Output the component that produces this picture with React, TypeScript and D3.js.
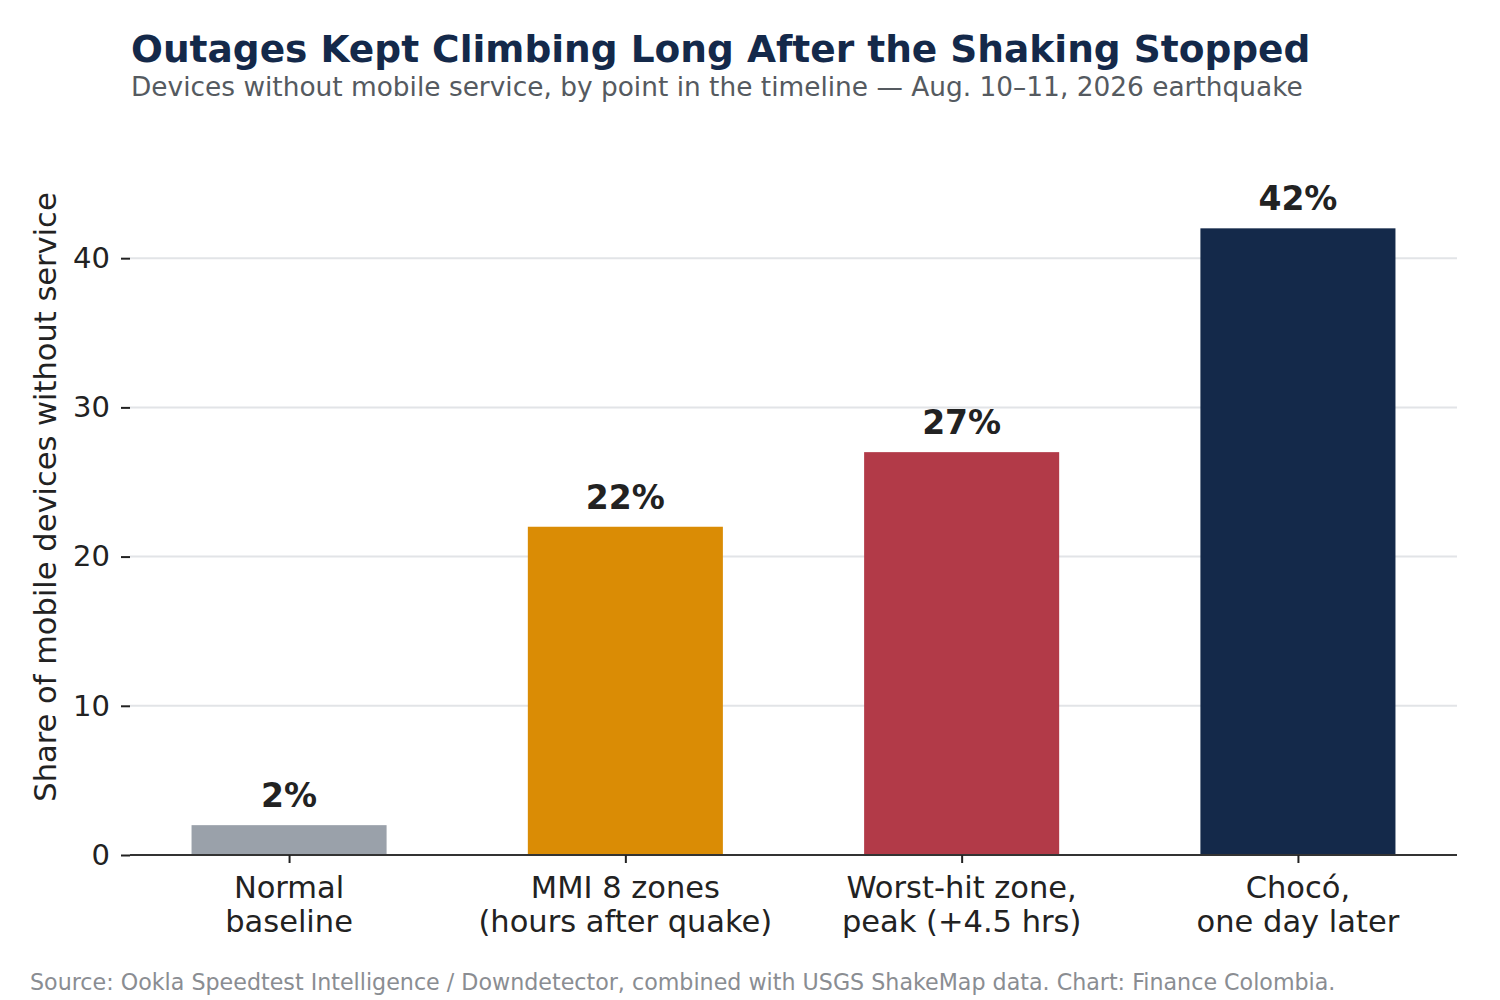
import React, { useEffect, useRef } from 'react';
import * as d3 from 'd3';

const categories = ['Normal\nbaseline', 'MMI 8 zones\n(hours after quake)', 'Worst-hit zone,\npeak (+4.5 hrs)', 'Chocó,\none day later'];
const values = [2, 22, 27, 42];
const barColors = ['#9aa1aa', '#da8c05', '#b23a48', '#14294a'];
const yTicks = [0, 10, 20, 30, 40];

const App: React.FC = () => {
    const chartRef = useRef<SVGSVGElement | null>(null);

    useEffect(() => {
        document.body.style.margin = '0';
        if (!chartRef.current) return;
        const svg = d3.select(chartRef.current);
        svg.selectAll('*').remove();

        const width = 1500;
        const height = 1000;
        const margin = { top: 197, right: 43, bottom: 145, left: 130 };
        const font = 'DejaVu Sans, sans-serif';

        svg.attr('width', width).attr('height', height).style('font-family', font);

        const x = d3.scalePoint<string>()
            .domain(categories)
            .range([margin.left, width - margin.right])
            .padding(0.473);
        const step = x.step();
        const barWidth = step * 0.58;

        const y = d3.scaleLinear()
            .domain([0, 44.1])
            .range([height - margin.bottom, margin.top]);

        // gridlines
        svg.append('g')
            .selectAll('line')
            .data(yTicks.filter(d => d > 0))
            .enter().append('line')
            .attr('x1', margin.left)
            .attr('x2', width - margin.right)
            .attr('y1', d => y(d))
            .attr('y2', d => y(d))
            .attr('stroke', '#e2e4e7')
            .attr('stroke-width', 2);

        // bars
        svg.selectAll('.bar')
            .data(values)
            .enter().append('rect')
            .attr('class', 'bar')
            .attr('x', (d, i) => (x(categories[i]) as number) - barWidth / 2)
            .attr('y', d => y(d))
            .attr('width', barWidth)
            .attr('height', d => y(0) - y(d))
            .attr('fill', (d, i) => barColors[i]);

        // value labels
        svg.selectAll('.value')
            .data(values)
            .enter().append('text')
            .attr('class', 'value')
            .attr('x', (d, i) => x(categories[i]) as number)
            .attr('y', d => y(d) - 18)
            .attr('text-anchor', 'middle')
            .attr('font-size', 33)
            .attr('font-weight', 'bold')
            .attr('fill', '#222')
            .text(d => `${d}%`);

        // y axis
        const yAxis = svg.append('g')
            .attr('transform', `translate(${margin.left},0)`)
            .call(d3.axisLeft(y).tickValues(yTicks).tickSize(9).tickPadding(11).tickFormat(d3.format('d')));
        yAxis.select('.domain').remove();
        yAxis.selectAll('.tick line').attr('stroke', '#222').attr('stroke-width', 2);
        yAxis.selectAll('.tick text')
            .attr('font-size', 29)
            .attr('font-family', font)
            .attr('fill', '#222');

        // x axis
        const xAxis = svg.append('g')
            .attr('transform', `translate(0,${y(0)})`)
            .call(d3.axisBottom(x).tickSize(8).tickFormat(() => ''));
        xAxis.select('.domain')
            .attr('d', `M${margin.left},0H${width - margin.right}`)
            .attr('stroke', '#333')
            .attr('stroke-width', 2);
        xAxis.selectAll('.tick line').attr('stroke', '#222').attr('stroke-width', 2);

        categories.forEach(c => {
            const t = svg.append('text')
                .attr('x', x(c) as number)
                .attr('y', y(0) + 43)
                .attr('text-anchor', 'middle')
                .attr('font-size', 30.5)
                .attr('fill', '#222');
            c.split('\n').forEach((line, i) => {
                t.append('tspan')
                    .attr('x', x(c) as number)
                    .attr('dy', i === 0 ? 0 : 34)
                    .text(line);
            });
        });

        // y axis label
        svg.append('text')
            .attr('transform', `translate(56,497) rotate(-90)`)
            .attr('text-anchor', 'middle')
            .attr('font-size', 30.5)
            .attr('fill', '#222')
            .text('Share of mobile devices without service');

        // titles
        svg.append('text')
            .attr('x', 131)
            .attr('y', 62)
            .attr('font-size', 37.5)
            .attr('font-weight', 'bold')
            .attr('fill', '#14294a')
            .text('Outages Kept Climbing Long After the Shaking Stopped');

        svg.append('text')
            .attr('x', 131)
            .attr('y', 96)
            .attr('font-size', 26.4)
            .attr('fill', '#555a60')
            .text('Devices without mobile service, by point in the timeline — Aug. 10–11, 2026 earthquake');

        svg.append('text')
            .attr('x', 30)
            .attr('y', 990)
            .attr('font-size', 22.2)
            .attr('fill', '#8a8d92')
            .text('Source: Ookla Speedtest Intelligence / Downdetector, combined with USGS ShakeMap data. Chart: Finance Colombia.');
    }, []);

    return <svg ref={chartRef} style={{ display: 'block' }} />;
};

export default App;
